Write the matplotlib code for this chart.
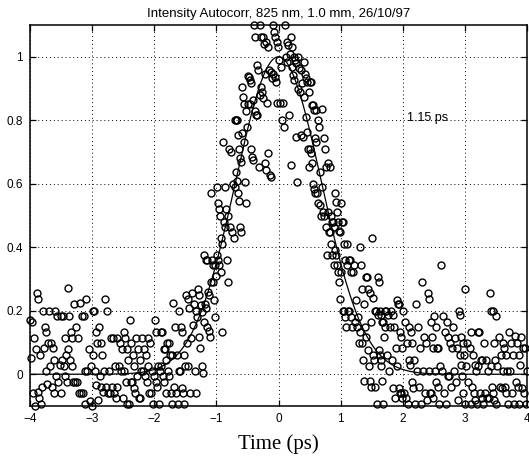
import numpy as np
import matplotlib
matplotlib.use("Agg")
import matplotlib.pyplot as plt

# Measured autocorrelation signal, grouped in 0.1 ps slices from -4 ps to 4 ps.
left_wing = [
    [0.17, 0.165, 0.115, 0.08, 0.05, -0.06, -0.1],
    [0.257, 0.237, 0.06, -0.04, -0.055, -0.075, -0.095],
    [0.20, 0.15, 0.134, 0.097, 0.082, 0.01, -0.03],
    [0.20, 0.097, 0.082, 0.045, 0.027, -0.04, -0.06],
    [0.20, 0.185, 0.03, -0.007, -0.023, -0.06],
    [0.185, 0.185, 0.115, 0.06, 0.045, 0.027, -0.007, -0.023],
    [0.273, 0.185, 0.134, 0.115, 0.08, 0.045, 0.027, -0.025],
    [0.22, 0.15, 0.115, -0.023, -0.023, -0.06],
    [0.223, 0.185, 0.185, 0.01, -0.06, -0.06, -0.094],
    [0.237, 0.08, 0.027, 0.01, -0.085, -0.1],
    [0.20, 0.20, 0.134, 0.097, 0.06, 0.01, -0.034, -0.08],
    [0.15, 0.097, 0.06, 0.01, -0.007, -0.04, -0.055],
    [0.237, 0.20, 0.01, -0.04, -0.06, -0.06],
    [0.115, 0.115, 0.027, -0.04, -0.04, -0.06, -0.075],
    [0.115, 0.097, 0.08, 0.027, 0.01, -0.075],
    [0.134, 0.115, 0.08, 0.045, 0.01, -0.023, -0.094, -0.094],
    [0.17, 0.097, 0.06, 0.027, -0.023, -0.023, -0.044, -0.06],
    [0.115, 0.08, 0.045, 0.01, -0.007, -0.075, -0.075],
    [0.115, 0.08, 0.06, 0.027, 0.01, -0.007, -0.023],
    [0.115, 0.097, 0.01, -0.007, -0.06, -0.06, -0.094],
    [0.17, 0.134, 0.027, 0.01, -0.023, -0.04, -0.094],
    [0.132, 0.132, 0.08, 0.08, 0.045, 0.027, -0.007, -0.023, -0.06],
    [0.097, 0.097, 0.06, 0.06, 0.01, -0.007, -0.06, -0.094],
    [0.223, 0.15, 0.06, 0.01, -0.04, -0.06, -0.094],
    [0.20, 0.15, 0.134, 0.06, 0.027, 0.01, -0.044, -0.06, -0.094],
    [0.25, 0.237, 0.21, 0.115, 0.097, 0.027, -0.06],
    [0.255, 0.22, 0.20, 0.18, 0.155, 0.01, -0.06],
]

rising_edge = [
    [0.27, 0.25, 0.218, 0.197, 0.166, 0.116, 0.082, 0.025, 0.004],
    [0.376, 0.36, 0.36, 0.26, 0.25, 0.22, 0.21, 0.15, 0.135, 0.116],
    [0.57, 0.36, 0.345, 0.345, 0.308, 0.292, 0.292, 0.235, 0.179],
    [0.59, 0.54, 0.52, 0.50, 0.43, 0.41, 0.376, 0.36, 0.345, 0.323, 0.133],
    [0.73, 0.59, 0.52, 0.50, 0.48, 0.465, 0.36, 0.292],
    [0.71, 0.70, 0.60, 0.59, 0.465, 0.447, 0.43],
    [0.80, 0.80, 0.80, 0.753, 0.71, 0.68, 0.67, 0.638, 0.61, 0.57, 0.545, 0.465, 0.447],
    [0.905, 0.874, 0.85, 0.83, 0.78, 0.76, 0.73, 0.607, 0.54],
    [0.94, 0.937, 0.926, 0.916, 0.864, 0.85, 0.85, 0.71, 0.685, 0.675],
    [1.1, 1.063, 0.974, 0.958, 0.88, 0.83, 0.816, 0.816, 0.654],
    [1.1, 1.063, 1.063, 1.04, 0.947, 0.905, 0.89, 0.87, 0.664, 0.643],
    [1.047, 1.03, 0.958, 0.953, 0.932, 0.853, 0.696, 0.627, 0.622],
    [1.1, 1.078, 1.063, 1.047, 1.03, 0.947, 0.937, 0.921, 0.853],
]

falling_edge = [
    [0.99, 0.968, 0.853, 0.853, 0.80, 0.78],
    [1.1, 1.047, 1.036, 1.01, 1.0, 0.984, 0.816, 0.66],
    [1.063, 1.03, 1.0, 0.99, 0.98, 0.968, 0.942, 0.926, 0.748, 0.607],
    [0.999, 0.963, 0.958, 0.916, 0.9, 0.89, 0.753, 0.748],
    [0.984, 0.947, 0.932, 0.921, 0.89, 0.874, 0.81, 0.764, 0.71, 0.654],
    [0.921, 0.921, 0.848, 0.848, 0.832, 0.743, 0.732, 0.711, 0.696, 0.664, 0.6, 0.585, 0.57],
    [0.832, 0.80, 0.78, 0.638, 0.59, 0.57, 0.538, 0.533, 0.50],
    [0.837, 0.743, 0.711, 0.654, 0.512, 0.512, 0.50, 0.465, 0.376],
    [0.664, 0.654, 0.50, 0.48, 0.48, 0.465, 0.447, 0.447, 0.41, 0.376, 0.345],
    [0.57, 0.544, 0.512, 0.48, 0.45, 0.447, 0.39, 0.376, 0.345, 0.323, 0.292, 0.237],
    [0.538, 0.48, 0.48, 0.41, 0.36, 0.345, 0.323, 0.2, 0.2, 0.18, 0.15],
    [0.41, 0.36, 0.36, 0.323, 0.323, 0.2, 0.2, 0.18, 0.15],
    [0.345, 0.235, 0.18, 0.166, 0.15, 0.098],
    [0.40, 0.345, 0.27, 0.22, 0.15, 0.134, 0.098, 0.046, -0.02],
]

right_wing = [
    [0.307, 0.307, 0.27, 0.257, 0.166, 0.116, 0.077, 0.025, -0.02, -0.04],
    [0.43, 0.24, 0.2, 0.2, 0.187, 0.06, 0.045, -0.04, -0.094],
    [0.307, 0.29, 0.2, 0.187, 0.166, 0.166, 0.116, 0.077, 0.06, 0.045, 0.025, -0.02, -0.094],
    [0.2, 0.2, 0.187, 0.15, 0.15, 0.06, 0.01],
    [0.2, 0.187, 0.15, 0.082, 0.045, -0.044, -0.075],
    [0.234, 0.22, 0.22, 0.134, 0.116, 0.082, 0.025, -0.044, -0.06, -0.06, -0.075],
    [0.2, 0.166, 0.1, 0.045, -0.06, -0.075, -0.094],
    [0.15, 0.134, 0.1, 0.045, 0.03, -0.023, -0.044, -0.094],
    [0.22, 0.15, 0.082, 0.01, -0.04, -0.094],
    [0.29, 0.116, 0.1, 0.01, -0.06, -0.08],
    [0.257, 0.237, 0.166, 0.116, 0.082, 0.01, -0.06, -0.06, -0.075],
    [0.185, 0.15, 0.082, 0.082, 0.025, 0.01, -0.023, -0.04, -0.094],
    [0.344, 0.185, 0.134, 0.01, -0.06, -0.094],
    [0.166, 0.116, 0.1, 0.082, -0.007, -0.007, -0.04],
    [0.15, 0.114, 0.082, 0.01, -0.023, -0.08],
    [0.2, 0.187, 0.116, 0.1, 0.06, 0.06, 0.03, -0.007, -0.06, -0.094],
    [0.27, 0.1, 0.082, 0.025, -0.023, -0.094],
    [0.134, 0.06, 0.03, 0.01, -0.04, -0.06, -0.08, -0.094],
    [0.134, 0.134, 0.045, 0.045, 0.025, -0.06, -0.075, -0.094],
    [0.1, 0.045, 0.01, -0.06, -0.075, -0.075],
    [0.255, 0.2, 0.2, 0.1, 0.045, 0.025, -0.04, -0.06, -0.08, -0.094],
    [0.185, 0.116, 0.06, 0.025, -0.04, -0.044],
    [0.1, 0.082, 0.06, 0.01, 0.01, -0.04, -0.06, -0.094],
    [0.134, 0.1, 0.06, 0.01, -0.06, -0.094],
    [0.12, 0.1, 0.06, 0.03, -0.023, -0.04, -0.094],
    [0.116, 0.082, 0.082, 0.01, -0.044, -0.06, -0.094],
]

t_start = -4.0
slice_width = 0.1
pulse_fwhm_ps = 1.15          # deconvolved pulse width (Gaussian pulse)
x_ticks = [-4, -3, -2, -1, 0, 1, 2, 3, 4]
y_ticks = [0, 0.2, 0.4, 0.6, 0.8, 1.0]
y_tick_labels = ["0", "0.2", "0.4", "0.6", "0.8", "1"]

# Spread the samples of each slice across the slice
slices = left_wing + rising_edge + falling_edge + right_wing
t, sig = [], []
for b, vals in enumerate(slices):
    n = len(vals)
    order = list(range(0, n, 2)) + list(range(1, n, 2))
    for k, v in enumerate(vals):
        t.append(t_start + slice_width * (b + (order[k] + 0.5) / n))
        sig.append(v)

# Gaussian autocorrelation trace: FWHM_ac = sqrt(2) * FWHM_pulse
fwhm_ac = pulse_fwhm_ps * np.sqrt(2)
tt = np.linspace(-4, 4, 801)
fit = np.exp(-4 * np.log(2) * tt ** 2 / fwhm_ac ** 2)

plt.rcParams["font.family"] = ["Liberation Sans", "DejaVu Sans"]

fig = plt.figure(figsize=(5.29, 4.70), dpi=100)
ax = fig.add_axes([30 / 529, 1 - 406 / 470, 497 / 529, 381 / 470])

ax.plot(t, sig, "o", mfc="none", mec="black", ms=5.0, mew=1.0,
        clip_on=False, zorder=3)
ax.plot(tt, fit, "-", color="black", lw=0.9, zorder=4)

ax.set_xlim(-4, 4)
ax.set_ylim(-0.1, 1.1)
ax.set_xticks(x_ticks)
ax.set_yticks(y_ticks)
ax.set_yticklabels(y_tick_labels)
ax.grid(True, color="black", linestyle=(0, (1, 3)), linewidth=0.7)
ax.set_axisbelow(True)
ax.tick_params(direction="in", top=True, right=True, length=4, width=0.9,
               labelsize=8.5, pad=5)
for sp in ax.spines.values():
    sp.set_linewidth(1.1)

ax.set_title("Intensity Autocorr, 825 nm, 1.0 mm, 26/10/97", fontsize=9.5, pad=6)
ax.set_xlabel("Time (ps)", fontsize=15, family=["Liberation Serif", "DejaVu Serif"],
              labelpad=7)
ax.text(2.07, 0.807, "1.15 ps", fontsize=9, ha="left", va="center")

fig.savefig("out.png", dpi=100)
